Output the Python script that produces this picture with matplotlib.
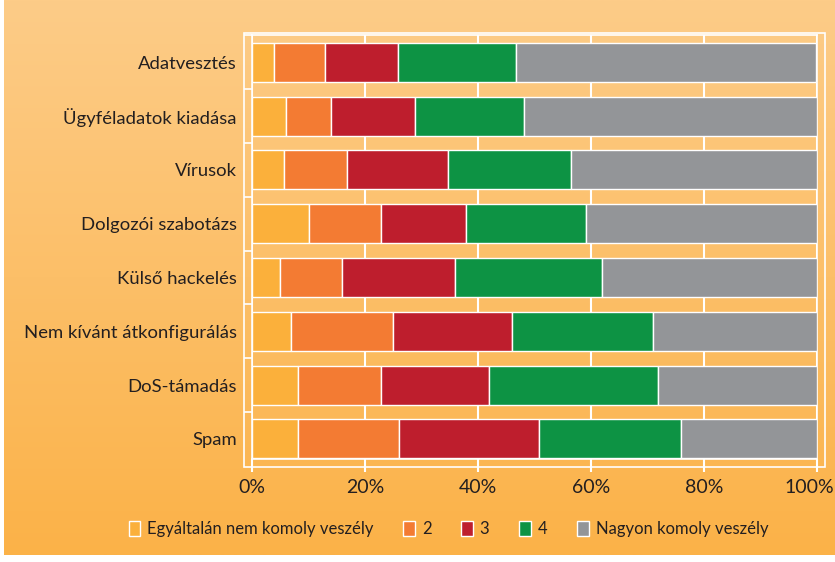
import numpy as np
import matplotlib.pyplot as plt
from matplotlib.patches import Patch, Rectangle
from matplotlib.transforms import ScaledTranslation

plt.rcParams['font.family'] = ['Lato', 'DejaVu Sans']

TEXT = '#231F20'

categories = ['Adatvesztés', 'Ügyféladatok kiadása', 'Vírusok', 'Dolgozói szabotázs',
              'Külső hackelés', 'Nem kívánt átkonfigurálás', 'DoS-támadás', 'Spam']
series_names = ['Egyáltalán nem komoly veszély', '2', '3', '4', 'Nagyon komoly veszély']
colors = ['#FBB03B', '#F37B33', '#BE1E2D', '#0D9344', '#939598']

s1 = [3.9, 6.0, 5.7, 10.1, 4.9, 6.9, 8.1, 8.1]
s2 = [9.0, 7.9, 11.1, 12.7, 11.0, 18.0, 14.7, 17.9]
s3 = [13.0, 15.0, 17.9, 15.1, 20.0, 21.1, 19.2, 24.8]
s4 = [20.9, 19.2, 21.8, 21.2, 26.0, 25.0, 29.9, 25.1]
s5 = [53.1, 51.9, 43.5, 40.9, 38.1, 29.0, 28.1, 24.1]
xticks = [0, 20, 40, 60, 80, 100]
xticklabels = ['0%', '20%', '40%', '60%', '80%', '100%']

fig = plt.figure(figsize=(8.35, 5.62), dpi=100, facecolor='white')

# gradient background panel
bg = fig.add_axes([4 / 835, 7 / 562, 831 / 835, 555 / 562], zorder=-10)
top = np.array([253, 204, 136]) / 255
bot = np.array([251, 178, 72]) / 255
t = np.linspace(0, 1, 256)[:, None]
grad = (top * (1 - t) + bot * t)[:, None, :]
bg.imshow(grad, aspect='auto', extent=[0, 1, 0, 1])
bg.axis('off')

ax = fig.add_axes([252 / 835, (562 - 459) / 562, 565 / 835, 424 / 562])
ax.patch.set_alpha(0)

y = np.arange(len(categories))
left = np.zeros(len(categories))
for vals, name, c in zip([s1, s2, s3, s4, s5], series_names, colors):
    ax.barh(y, vals, left=left, height=0.725, color=c, edgecolor='white',
            linewidth=1.0, label=name, zorder=3)
    left += np.array(vals)

ax.set_xlim(0, 100)
ax.set_ylim(7.375, -0.506)
ax.set_xticks(xticks)
ax.set_xticklabels(xticklabels, fontsize=14, color=TEXT)
ax.set_yticks(y)
ax.set_yticklabels(categories, fontsize=13.3, color=TEXT)
ax.set_yticks(np.arange(-0.5, 7, 1), minor=True)
ax.tick_params(axis='x', direction='out', length=9.5, width=1.5, color='white', pad=5)
ax.tick_params(axis='y', which='major', length=0, pad=11)
ax.tick_params(axis='y', which='minor', direction='out', length=6, width=1.2, color='white')
ax.grid(axis='x', color='white', linewidth=1.5, zorder=0)
ax.set_axisbelow(True)
for sp in ax.spines.values():
    sp.set_color('white')
    sp.set_linewidth(1.2)

# keep the 100% label inside the figure, like the original
last = ax.get_xticklabels()[-1]
last.set_transform(last.get_transform() + ScaledTranslation(-0.08, 0, fig.dpi_scale_trans))

# outer frame around plot area
fig.patches.append(Rectangle((244 / 835, (562 - 467) / 562), 581 / 835, 434 / 562,
                             transform=fig.transFigure, fill=False,
                             edgecolor='white', linewidth=1.2, zorder=1))

handles = [Patch(facecolor=c, edgecolor='white', linewidth=1.0) for c in colors]
fig.legend(handles, series_names, loc='center', bbox_to_anchor=(0.537, 1 - 529 / 562),
           ncol=5, frameon=False, fontsize=12, handlelength=0.7, handleheight=1.0,
           handletextpad=0.4, columnspacing=1.8, labelcolor=TEXT)

fig.savefig('out.png', dpi=100, facecolor='white')
